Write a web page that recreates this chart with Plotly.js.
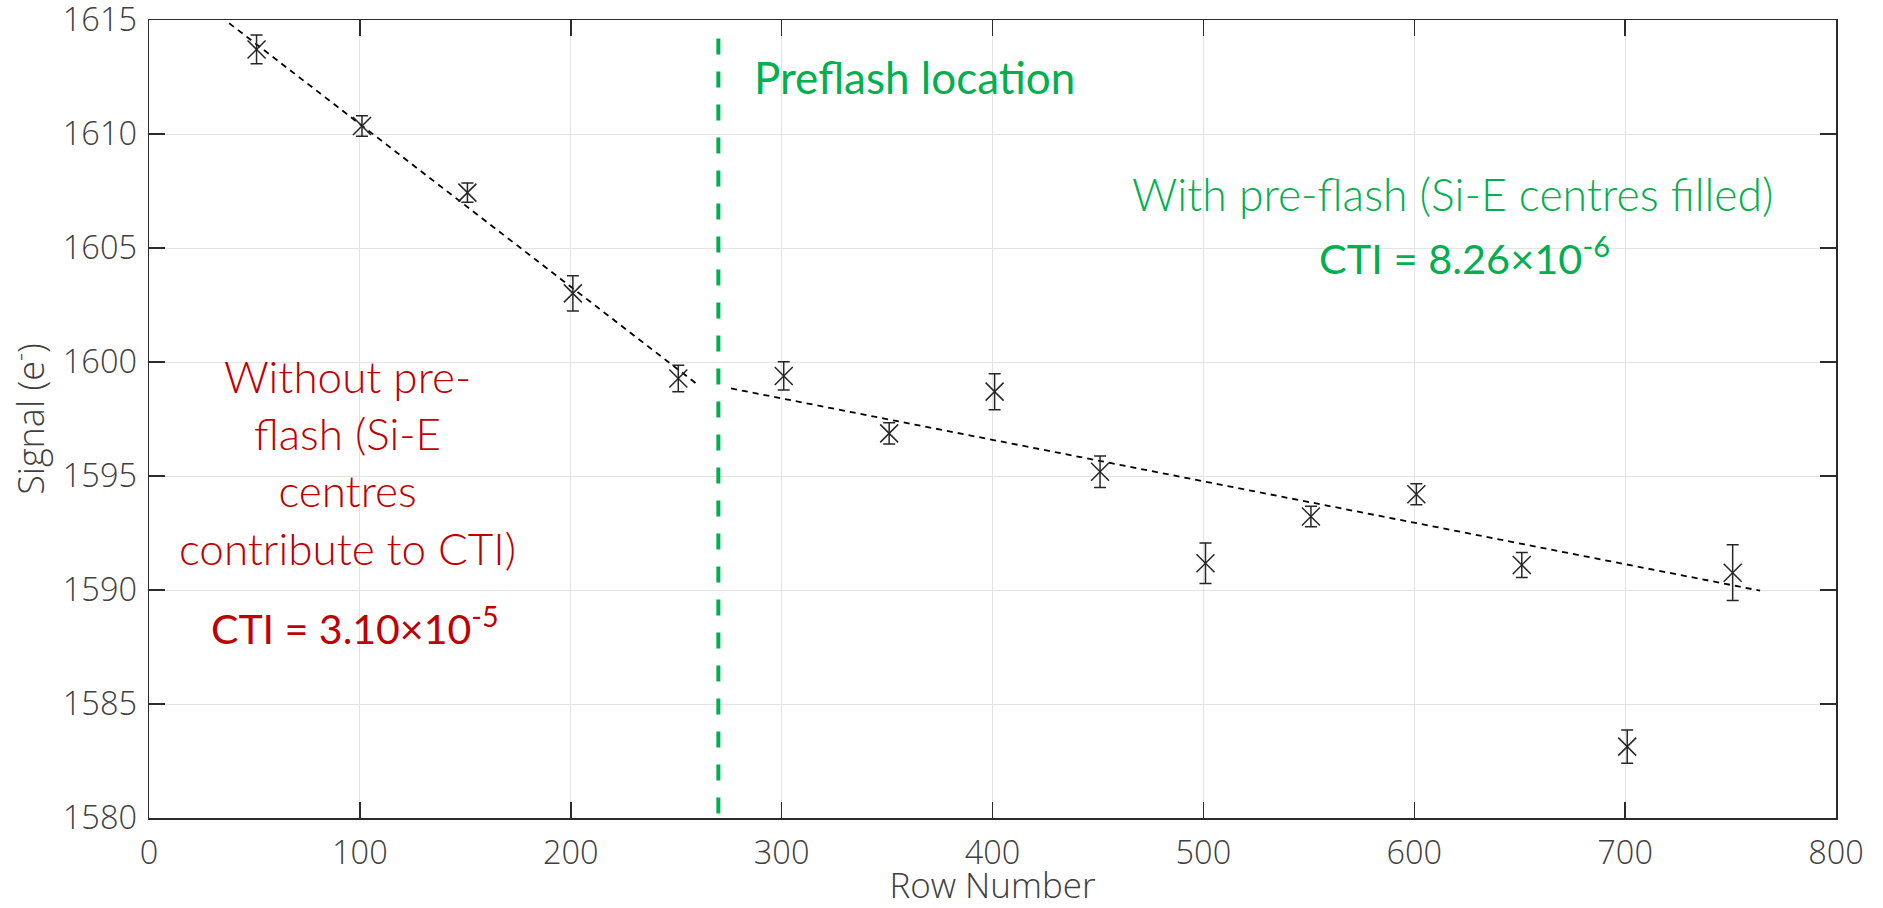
<!DOCTYPE html>
<html>
<head>
<meta charset="utf-8">
<script src="https://cdn.plot.ly/plotly-3.0.1.min.js"></script>
<style>
  html, body { margin: 0; padding: 0; background: #ffffff; }
  #chart { width: 1883px; height: 908px; }
</style>
</head>
<body>
<div id="chart"></div>
<script>
// Mean signal per row block, with its standard error
const rows = [51, 101, 151, 201, 251, 301, 351, 401, 451, 501, 551, 601, 651, 701, 751];
const signal = [1613.71, 1610.35, 1607.43, 1603.01, 1599.28, 1599.39, 1596.87, 1598.70,
                1595.19, 1591.17, 1593.22, 1594.20, 1591.10, 1583.13, 1590.76];
const signalErr = [0.63, 0.45, 0.42, 0.77, 0.58, 0.62, 0.47, 0.79,
                   0.69, 0.89, 0.45, 0.46, 0.55, 0.73, 1.22];

// Linear fits before and after the preflash row
const fitBeforeRows = [38, 261];
const fitBeforeSignal = [1614.86, 1598.95];
const fitAfterRows = [276, 764];
const fitAfterSignal = [1598.84, 1589.97];

// Row where the preflash was injected
const preflashRow = 270;
const preflashSpan = [1580.2, 1614.85];

// Axis ticks
const rowTicks = [0, 100, 200, 300, 400, 500, 600, 700, 800];
const signalTicks = [1580, 1585, 1590, 1595, 1600, 1605, 1610, 1615];

const green = '#00B050';
const red = '#C00000';
const axisGrey = '#404040';
const noteFont = 'Lato, "Open Sans", sans-serif';
const axisFont = '"Open Sans", "Noto Sans", sans-serif';

const traces = [
  {
    x: [preflashRow, preflashRow], y: preflashSpan,
    mode: 'lines', hoverinfo: 'skip',
    line: { color: green, width: 4, dash: '16px,17px' }
  },
  {
    x: fitBeforeRows, y: fitBeforeSignal,
    mode: 'lines', hoverinfo: 'skip',
    line: { color: '#000000', width: 1.8, dash: '6px,5px' }
  },
  {
    x: fitAfterRows, y: fitAfterSignal,
    mode: 'lines', hoverinfo: 'skip',
    line: { color: '#000000', width: 1.8, dash: '6px,5px' }
  },
  {
    x: rows, y: signal,
    mode: 'markers',
    marker: { symbol: 'x-thin', size: 18, color: '#262626',
              line: { color: '#262626', width: 1.5 } },
    error_y: { type: 'data', array: signalErr, visible: true,
               color: '#262626', thickness: 1.5, width: 6 }
  }
];

const layout = {
  width: 1883, height: 908,
  margin: { l: 149, r: 47, t: 20, b: 90 },
  paper_bgcolor: '#ffffff', plot_bgcolor: '#ffffff',
  showlegend: false,
  font: { family: axisFont, color: axisGrey },
  xaxis: {
    range: [0, 800], tickmode: 'array', tickvals: rowTicks,
    showgrid: true, gridcolor: '#e3e3e3', gridwidth: 1,
    zeroline: false,
    showline: true, linecolor: '#2b2b2b', linewidth: 1.5, mirror: 'ticks',
    ticks: 'inside', ticklen: 16, tickwidth: 1.5, tickcolor: '#2b2b2b',
    ticklabelstandoff: 5, ticklabeloverflow: 'allow',
    tickfont: { family: axisFont, size: 32.5, color: axisGrey, weight: 300 },
    title: { text: 'Row Number', standoff: 9,
             font: { family: axisFont, size: 35, color: axisGrey, weight: 300 } }
  },
  yaxis: {
    range: [1580, 1615], tickmode: 'array', tickvals: signalTicks,
    showgrid: true, gridcolor: '#e3e3e3', gridwidth: 1,
    zeroline: false,
    showline: true, linecolor: '#2b2b2b', linewidth: 1.5, mirror: 'ticks',
    ticks: 'inside', ticklen: 16, tickwidth: 1.5, tickcolor: '#2b2b2b',
    ticklabelstandoff: 4, ticklabeloverflow: 'allow',
    tickfont: { family: axisFont, size: 32.5, color: axisGrey, weight: 300 },
    title: { text: 'Signal (e<sup>-</sup>)', standoff: 7,
             font: { family: axisFont, size: 36, color: axisGrey, weight: 300 } }
  },
  annotations: [
    { x: 286, y: 1612.48, xref: 'x', yref: 'y', xanchor: 'left', yanchor: 'middle',
      text: 'Preflash location', showarrow: false,
      font: { family: noteFont, size: 44, color: green, weight: 400 } },
    { x: 618.4, y: 1607.40, xref: 'x', yref: 'y', xanchor: 'center', yanchor: 'middle',
      text: 'With pre-flash (Si-E centres filled)', showarrow: false,
      font: { family: noteFont, size: 44.5, color: green, weight: 300 } },
    { x: 624, y: 1604.69, xref: 'x', yref: 'y', xanchor: 'center', yanchor: 'middle',
      text: 'CTI = 8.26×10<sup>-6</sup>', showarrow: false,
      font: { family: noteFont, size: 41.5, color: green, weight: 400 } },
    { x: 94, y: 1595.61, xref: 'x', yref: 'y', xanchor: 'center', yanchor: 'middle',
      align: 'center',
      text: 'Without pre-<br>flash (Si-E<br>centres<br>contribute to CTI)', showarrow: false,
      font: { family: noteFont, size: 44, color: red, weight: 300 } },
    { x: 97.8, y: 1588.42, xref: 'x', yref: 'y', xanchor: 'center', yanchor: 'middle',
      text: 'CTI = 3.10×10<sup>-5</sup>', showarrow: false,
      font: { family: noteFont, size: 41, color: red, weight: 400 } }
  ]
};

Plotly.newPlot('chart', traces, layout, { staticPlot: true, displayModeBar: false });
</script>
</body>
</html>
